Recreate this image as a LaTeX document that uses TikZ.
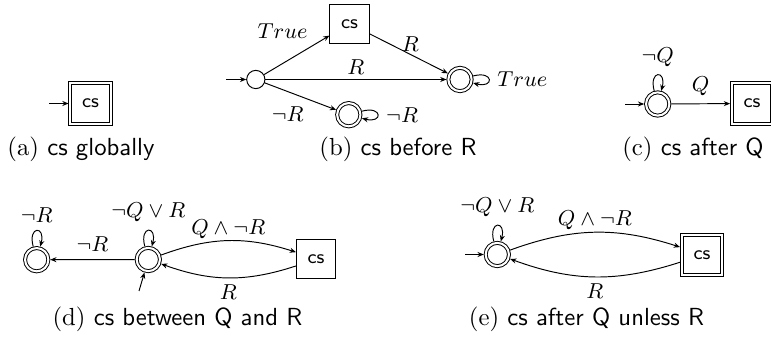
\documentclass[tikz,border=0pt]{standalone}
\usetikzlibrary{arrows.meta}
\begin{document}
\begin{tikzpicture}[x=0.41667pt,y=-0.41667pt,
  >={Stealth[length=2.6pt,width=2.1pt]},
  st/.style={circle,draw,minimum size=7.6pt,inner sep=0pt},
  acc/.style={circle,draw,double,double distance=0.85pt,minimum size=9.7pt,inner sep=0pt,outer sep=0.8pt},
  csbox/.style={rectangle,draw,minimum size=16.3pt,inner sep=0pt,font=\footnotesize\sffamily},
  csdbox/.style={rectangle,draw,double,double distance=0.85pt,minimum size=16.7pt,inner sep=0pt,outer sep=0.8pt,font=\footnotesize\sffamily},
  lab/.style={font=\small},
  captxt/.style={anchor=base,font=\fontsize{10.3}{12.5}\selectfont},
  lp/.style={min distance=3.2mm}
]
\useasboundingbox (0,0) rectangle (771,343);

% (a)
\node[csdbox] (a1) at (90.5,103.5) {cs};
\coordinate (a0) at (49,103.5);
\draw[->] (a0) -- (a1);
\node[captxt] (capa) at (81,155.5) {(a) \textsf{cs globally}};

% (b)
\node[st] (b0) at (255.8,79.5) {};
\node[csbox] (b1) at (349.5,23.7) {cs};
\node[acc] (b2) at (460,79.5) {};
\node[acc] (b3) at (348.8,114.7) {};
\coordinate (bi) at (226,79.5);
\draw[->] (bi) -- (b0);
\draw[->] (b0) -- node[lab,pos=0.72,above left,xshift=2pt] {$True$} (b1);
\draw[->] (b1) -- node[lab,pos=0.52,above,yshift=-2.5pt] {$R$} (b2);
\draw[->] (b0) -- node[lab,above,yshift=-1.5pt] {$R$} (b2);
\draw[->] (b0) -- node[lab,pos=0.58,below left,xshift=2.5pt] {$\neg R$} (b3);
\draw[->] (b2) to[loop right,lp] node[lab,right] {$True$} (b2);
\draw[->] (b3) to[loop right,lp] node[lab,right] {$\neg R$} (b3);
\node[captxt] (capb) at (398,155.5) {(b) \textsf{cs before R}};

% (c)
\node[acc] (c1) at (657.7,104) {};
\node[csdbox] (c2) at (752,103.5) {cs};
\coordinate (c0) at (625,104);
\draw[->] (c0) -- (c1);
\draw[->] (c1) to[loop above,lp] node[lab,above] {$\neg Q$} (c1);
\draw[->] (c1) -- node[lab,above] {$Q$} (c2);
\node[captxt] (capc) at (693,155.5) {(c) \textsf{cs after Q}};

% (d)
\node[acc] (d1) at (36.7,259.7) {};
\node[acc] (d2) at (148.3,259.5) {};
\node[csbox] (d3) at (316,259) {cs};
\coordinate (d0) at (139,291);
\draw[->] (d0) -- (d2);
\draw[->] (d1) to[loop above,lp] node[lab,above] {$\neg R$} (d1);
\draw[->] (d2) to[loop above,lp] node[lab,above] {$\neg Q\vee R$} (d2);
\draw[->] (d2) -- node[lab,above] {$\neg R$} (d1);
\draw[->] (d2) to[bend left=19] node[lab,above,yshift=-2.5pt] {$Q\wedge\neg R$} (d3);
\draw[->] (d3) to[bend left=19] node[lab,below,yshift=0.5pt] {$R$} (d2);
\node[captxt] (capd) at (177.5,325.5) {(d) \textsf{cs between Q and R}};

% (e)
\node[acc] (e1) at (497.3,254.5) {};
\node[csdbox] (e2) at (702,254.7) {cs};
\coordinate (e0) at (465,254.5);
\draw[->] (e0) -- (e1);
\draw[->] (e1) to[loop above,lp] node[lab,above] {$\neg Q\vee R$} (e1);
\draw[->] (e1) to[bend left=19] node[lab,above,yshift=-2.5pt] {$Q\wedge\neg R$} (e2);
\draw[->] (e2) to[bend left=19] node[lab,below,yshift=0.5pt] {$R$} (e1);
\node[captxt] (cape) at (586.5,325.5) {(e) \textsf{cs after Q unless R}};
\end{tikzpicture}
\end{document}
